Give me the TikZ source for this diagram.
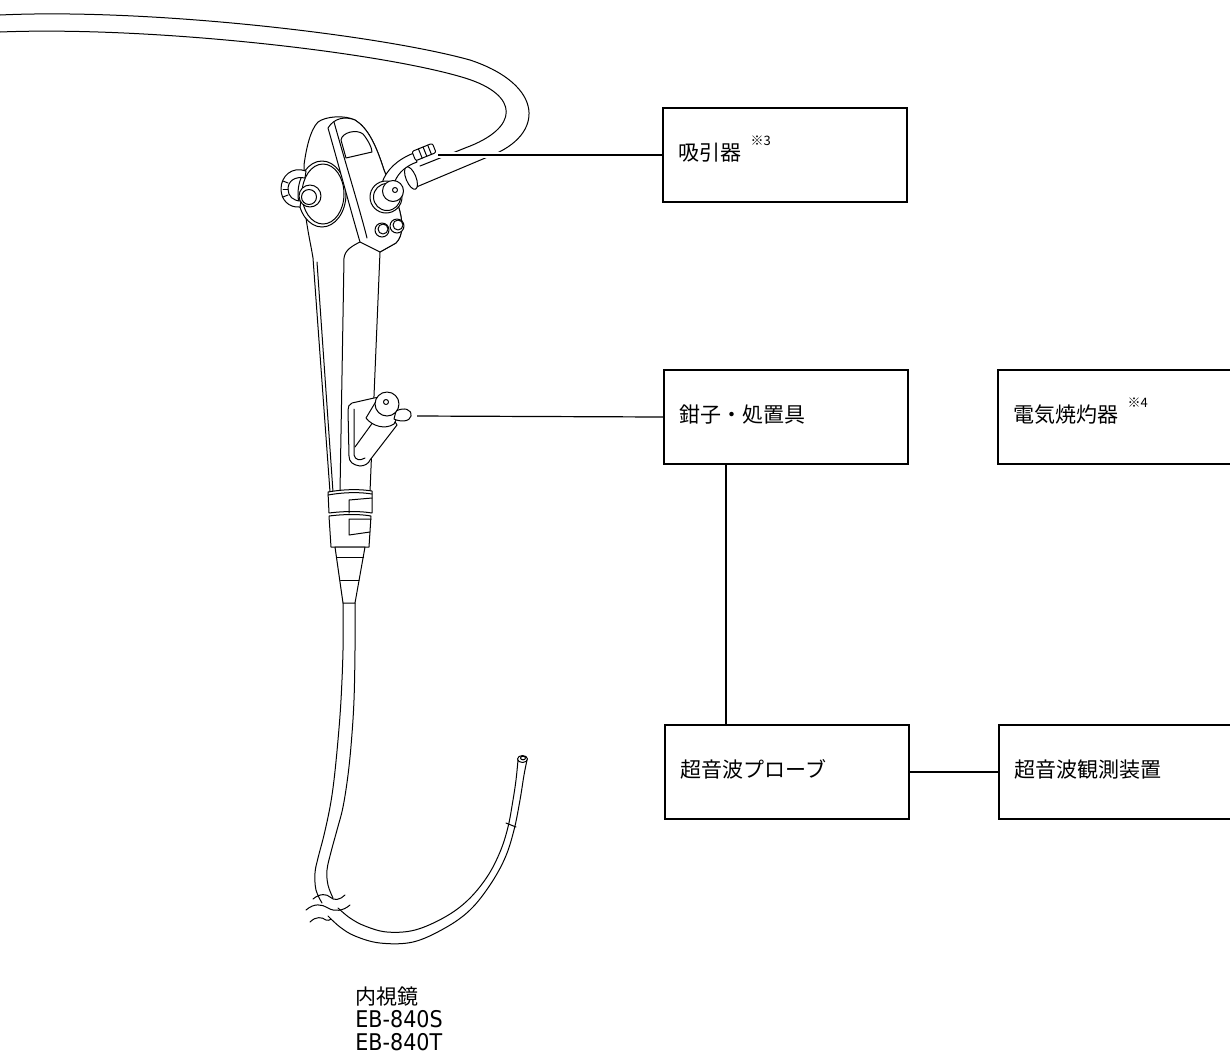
\documentclass[tikz,border=0pt]{standalone}
\usepackage{fontspec}
\usetikzlibrary{positioning}
\newfontfamily\jp{Noto Sans CJK JP}
\newfontfamily\lat{DejaVu Sans}[FakeStretch=0.9]
\newcommand{\fnmark}[1]{\hspace{4.5pt}\raisebox{7.5pt}{\fontsize{6.5}{7}\selectfont ※#1}}

\begin{document}
\begin{tikzpicture}[x=0.5pt, y=-0.5pt,
  every box/.style={draw, line width=1pt, minimum width=122pt, minimum height=47pt,
    inner xsep=7.75pt, text width=106.5pt, align=left, text height=7pt, text depth=2pt,
    font=\jp\fontsize{10.5}{12}\selectfont},
  link/.style={line width=0.6pt},
  leader/.style={line width=0.6pt, preaction={draw=white, line width=3pt}},
  sketch/.style={line width=0.5pt, line join=round, line cap=round}]

\useasboundingbox (0,0) rectangle (1230,1056);
\clip (0,0) rectangle (1230,1056);

% universal cord
\draw [sketch] (0,15) .. controls (150,8) and (380,35) .. (470,60)
  .. controls (545,85) and (545,135) .. (490,156) -- (414,188);
\draw [sketch] (0,32) .. controls (150,26) and (380,52) .. (465,78)
  .. controls (520,95) and (520,128) .. (465,148) -- (420,166);

% control section
\draw [sketch, fill=white] (330,492) -- (313,258) .. controls (311,245) and (306,225) .. (304,200)
  -- (304,165) .. controls (306,150) and (310,130) .. (318,122)
  .. controls (326,116) and (345,115) .. (355,120)
  .. controls (368,128) and (376,145) .. (384,170) -- (398,205)
  .. controls (403,220) and (404,235) .. (396,243) -- (380,252) -- (370,492) -- cycle;
\draw [sketch] (317,262) -- (333,492);
\draw [sketch] (360,242) .. controls (352,246) and (345,250) .. (344,258) -- (340,492);

% angulation knob
\draw [sketch, fill=white] (322,194) ellipse [x radius=24, y radius=33];
\draw [sketch] (323,194) ellipse [x radius=21, y radius=30];
\draw [sketch, fill=white] (328,128) .. controls (340,170) and (352,215) .. (360,242)
  -- (380,252) -- (396,243) .. controls (404,235) and (403,220) .. (398,205)
  -- (384,170) .. controls (376,145) and (368,128) .. (355,120)
  .. controls (345,116) and (334,118) .. (328,128) -- cycle;
\draw [sketch] (334,122) .. controls (346,165) and (360,210) .. (367,238);
\draw [sketch] (341,140) .. controls (342,132) and (357,129) .. (363,134)
  .. controls (368,140) and (372,148) .. (372,152) -- (346,158) -- cycle;
\draw [sketch, fill=white] (306,171) .. controls (292,166) and (281,176) .. (281,189)
  .. controls (281,200) and (289,208) .. (300,207) -- (301,201)
  .. controls (293,201) and (288,196) .. (288,189)
  .. controls (288,181) and (295,176) .. (305,178) -- cycle;
\foreach \a/\b in {181/183, 189/189, 197/195}
  \draw [sketch] (283,\a) -- (288,\b);
\draw [sketch, fill=white] (310,196) circle (11);
\draw [sketch] (309,197) circle (7.5);

% suction valve and nozzle
\draw [sketch, fill=white, rotate around={22:(411,178)}] (411,178) ellipse [x radius=5, y radius=12];
\draw [sketch, fill=white] (382,183) .. controls (386,170) and (398,159) .. (414,153)
  -- (417,162) .. controls (406,166) and (399,172) .. (395,181) -- cycle;
\begin{scope}[shift={(424,152)}, rotate=22]
  \draw [sketch, fill=white, rounded corners=1pt] (-11,-5) rectangle (11,5);
  \foreach \u in {-4,1,6}
    \draw [sketch] (\u,-5) -- (\u,5);
\end{scope}
\draw [sketch, fill=white] (386,197) circle (16);
\draw [sketch] (387,197) circle (13.5);
\draw [sketch, fill=white] (393,191) circle (10.5);
\draw [sketch] (395,190) circle (2.5);
\foreach \bx/\by in {382/230, 397/226} {
  \draw [sketch, fill=white] (\bx,\by) circle (7);
  \draw [sketch] (\bx+1,\by-1) circle (5);
}

% forceps port
\draw [sketch, fill=white] (374,398) -- (352,403) .. controls (349,404) and (348,407) .. (348,410)
  -- (349,456) .. controls (349,462) and (353,465) .. (360,466)
  .. controls (365,466) and (369,463) .. (370,460) -- (397,425) -- (380,397) -- cycle;
\draw [sketch] (354,409) -- (354,455) .. controls (355,460) and (360,461) .. (365,458);
\draw [sketch] (355,447) -- (376,418);
\draw [sketch, fill=white] (366,418) .. controls (372,426) and (385,430) .. (394,424)
  -- (398,416) -- (378,398) -- cycle;
\draw [sketch, fill=white] (396,411) .. controls (404,407) and (412,409) .. (411,416)
  .. controls (410,422) and (400,422) .. (394,419) -- cycle;
\draw [sketch, fill=white] (387,404) circle (12);
\draw [sketch] (386,402) circle (2.5);

% collar and boot
\draw [sketch, fill=white] (328,492) .. controls (345,489) and (360,489) .. (372,491)
  -- (372,513) .. controls (360,511) and (345,511) .. (329,513) -- cycle;
\draw [sketch] (328,495) .. controls (345,492) and (360,492) .. (372,494);
\draw [sketch] (372,498) -- (349,500) -- (349,513);
\draw [sketch, fill=white] (329,516) .. controls (345,514) and (360,514) .. (371,516)
  -- (369,547) -- (331,547) -- cycle;
\draw [sketch] (371,519) -- (349,519) -- (349,535) -- (370,532);
\draw [sketch, fill=white] (335,547) -- (343,603) -- (355,603) -- (365,547) -- cycle;
\draw [sketch] (336.5,557) -- (363.5,557);
\draw [sketch] (340.5,580) -- (359,580);

% insertion tube
\draw [sketch] plot [smooth, tension=0.6] coordinates {(343,603) (343,650) (341,700) (338,740)
  (334,780) (330,807) (324,835) (318,858) (315,873) (316,890) (322,903)};
\draw [sketch] plot [smooth, tension=0.6] coordinates {(355,603) (355,650) (354,700) (351.5,740)
  (348,775) (343,807) (337,830) (331,852) (327,870) (328,885) (333,898)};
\draw [sketch] plot [smooth, tension=0.6] coordinates {(328,916) (340,927) (355,936) (380,943)
  (413,942) (445,928) (470,910) (490,885) (505,858) (514,830) (520,800) (524,775) (527,760)};
\draw [sketch] plot [smooth, tension=0.6] coordinates {(338,908) (350,918) (365,926) (387,932)
  (415,930) (445,917) (468,900) (487,877) (500,852) (508,827) (513,800) (516,780) (518,760)};
\draw [sketch, fill=white] (522.5,759) ellipse [x radius=5, y radius=3.5];
\draw [sketch] (523,758) ellipse [x radius=2.5, y radius=1.8];
\draw [sketch] (506,823) -- (516,827);

% break marks
\draw [sketch] (313,899) .. controls (320,893) and (327,894) .. (330,897)
  .. controls (334,901) and (340,900) .. (345,895);
\draw [sketch] (306,910) .. controls (314,903) and (322,904) .. (328,908)
  .. controls (335,912) and (343,911) .. (350,905);
\draw [sketch] (310,922) .. controls (316,916) and (322,917) .. (326,920)
  .. controls (328,921) and (330,920) .. (331,919);

% devices
\foreach \n/\x/\y/\txt in {suction/785/155/{吸引器\fnmark{3}},
    forceps/786/417/{鉗子・処置具}, probe/787/772/{超音波プローブ}}
  \node [every box] (\n) at (\x,\y) {\txt};
\node [every box, right=44pt of forceps] (cautery) {電気焼灼器\fnmark{4}};
\node [every box, right=44pt of probe] (observer) {超音波観測装置};

\node [anchor=north west, align=left, inner sep=0pt, font=\jp\fontsize{10.5}{11.65}\selectfont]
  (scope-label) at (355,986)
  {内視鏡\\{\lat\fontsize{11.5}{11.65}\selectfont EB-840S}\\{\lat\fontsize{11.5}{11.65}\selectfont EB-840T}};

% connections
\coordinate (suction-port) at (438,155);
\coordinate (biopsy-port) at (417,416);
\draw [leader] (suction-port) -- (suction.west);
\draw [link] (biopsy-port) -- (forceps.west);
\draw [link] ([xshift=31.5pt]forceps.south west) -- ([xshift=31.5pt]forceps.south west |- probe.north);
\draw [link] (probe) -- (observer);
\end{tikzpicture}
\end{document}
